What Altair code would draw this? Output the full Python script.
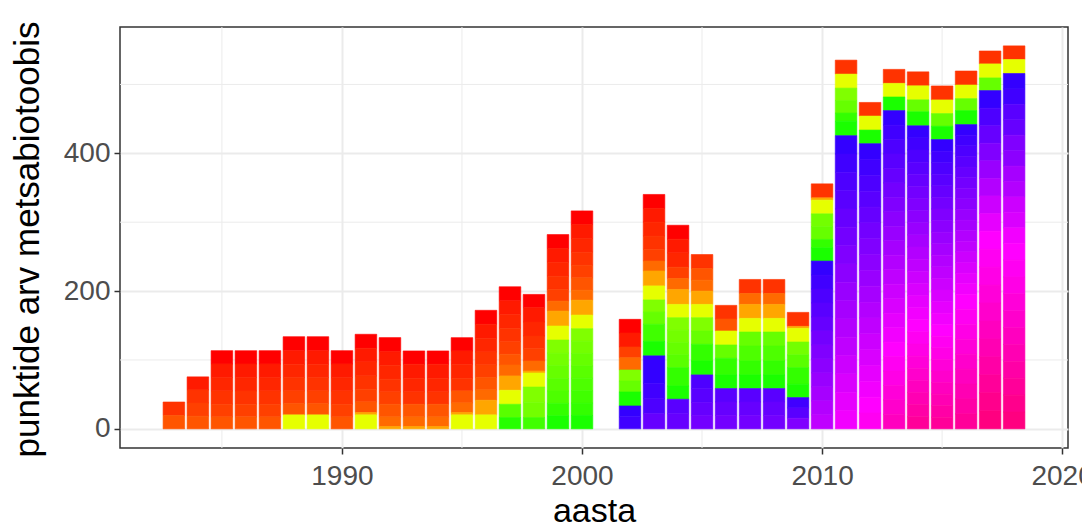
import altair as alt
import pandas as pd

# ---------------- data ----------------
years = [1983, 1984, 1985, 1986, 1987, 1988, 1989, 1990, 1991, 1992, 1993, 1994,
         1995, 1996, 1997, 1998, 1999, 2000, 2002, 2003, 2004, 2005, 2006, 2007,
         2008, 2009, 2010, 2011, 2012, 2013, 2014, 2015, 2016, 2017, 2018]

# fill levels, in stacking order (first = top of a bar)
level_names = ["R0", "R1", "R2", "R3", "R4", "R5", "R6", "O", "Y",
               "G0", "G1", "G2", "G3", "G4", "G5", "G6", "G7", "G8",
               "B0", "B1", "B2", "B3", "B4", "B5", "B6", "B7", "B8", "B9",
               "B10", "B11", "B12", "B13", "B14", "B15", "B16", "B17", "B18",
               "B19", "B20", "B21", "B22", "B23", "B24", "B25", "B26"]
level_colours = ["#FF0000", "#FF1A00", "#FF2600", "#FF3300", "#FF4000", "#FF5500", "#FF6A00", "#FFA600", "#E6FF00",
                 "#80FF00", "#73FF00", "#66FF00", "#59FF00", "#4DFF00", "#40FF00", "#33FF00", "#26FF00", "#1AFF00",
                 "#3300FF", "#4000FF", "#4D00FF", "#5900FF", "#6600FF", "#7300FF", "#8000FF", "#8C00FF", "#9900FF", "#A600FF",
                 "#B300FF", "#BF00FF", "#CC00FF", "#D900FF", "#E600FF", "#F200FF", "#FF00FF", "#FF00F2", "#FF00E6",
                 "#FF00D9", "#FF00CC", "#FF00BF", "#FF00B3", "#FF00A6", "#FF0099", "#FF008C", "#FF0080"]

# segments of each bar, top to bottom
seg_levels = [
    "R3 R5",
    "R1 R3 R4 R5",
    "R0 R1 R2 R3 R4 R5",
    "R0 R1 R2 R3 R4 R5",
    "R0 R1 R2 R3 R4 R5",
    "R0 R1 R2 R3 R4 R5 Y",
    "R0 R1 R2 R3 R4 R5 Y",
    "R0 R1 R2 R3 R4 R5",
    "R0 R1 R2 R3 R4 R5 O Y",
    "R0 R1 R2 R3 R4 R5 R6 O",
    "R0 R1 R2 R3 R5 R6 O",
    "R0 R1 R2 R3 R5 R6 O",
    "R0 R1 R2 R3 R5 R6 O Y",
    "R0 R1 R2 R3 R4 R5 R6 O Y",
    "R0 R1 R2 R3 R4 R5 R6 O Y G3 G7",
    "R0 R1 R2 R3 R4 R6 O Y G0 G1 G5",
    "R0 R1 R2 R3 R4 R6 O Y G0 G1 G2 G3 G4 G6 G8",
    "R0 R1 R2 R3 R4 R5 R6 O Y G0 G1 G2 G3 G4 G5 G6 G8",
    "R0 R1 R4 R6 G0 G2 G8 B0 B1",
    "R0 R1 R2 R3 R4 R6 O Y G0 G2 G5 G8 B0 B1 B2 B4",
    "R0 R1 R2 R4 R6 O Y G0 G1 G2 G3 G6 G8 B3 B4",
    "R3 R5 R6 O Y G0 G2 G6 G8 B2 B3 B4 B5",
    "R3 R5 Y G2 G6 G8 B3 B4 B5",
    "R3 R6 O Y G2 G4 G6 G8 B3 B4 B5",
    "R3 R6 O Y G2 G4 G6 G8 B3 B4 B5",
    "R3 O Y G1 G3 G6 G8 B1 B3 B6",
    "R3 O Y G1 G2 G6 G8 B0 B1 B2 B3 B4 B5 B6 B7 B8 B9 B10 B11",
    "R3 Y G0 G2 G6 G8 B0 B1 B2 B3 B4 B5 B6 B7 B8 B9 B10 B11 B12 B13 B14 B15",
    "R3 Y G8 B0 B1 B2 B3 B4 B5 B6 B7 B8 B9 B10 B11 B12 B13 B14 B15 B16 B17",
    "R3 Y G8 B0 B1 B2 B3 B4 B5 B6 B7 B8 B9 B10 B11 B12 B13 B14 B15 B16 B17 B18 B19 B20 B21",
    "R3 Y G2 G8 B0 B1 B2 B3 B4 B5 B6 B7 B8 B9 B10 B11 B12 B13 B14 B15 B16 B17 B18 B19 B20 B21 B22 B23 B24",
    "R3 Y G2 G8 B0 B1 B2 B3 B4 B5 B6 B7 B8 B9 B10 B11 B12 B13 B14 B15 B16 B17 B18 B19 B20 B21 B22 B23 B24",
    "R3 Y G2 G8 B0 B1 B2 B3 B4 B5 B6 B7 B8 B9 B10 B11 B12 B13 B14 B15 B16 B17 B18 B19 B20 B21 B22 B23 B24",
    "R3 Y G2 B0 B2 B4 B6 B8 B10 B12 B14 B16 B17 B18 B19 B20 B21 B22 B23 B24 B25 B26",
    "R3 Y B0 B1 B3 B4 B6 B7 B9 B10 B12 B13 B15 B16 B17 B18 B19 B20 B21 B22 B23 B24 B25 B26",
]

seg_values = [
    [19.5, 19.5],
    [19.0, 19.0, 19.0, 18.5],
    [19.3, 19.8, 19.3, 19.3, 18.4, 17.4],
    [19.3, 19.8, 19.3, 19.3, 18.4, 17.4],
    [19.3, 19.8, 19.3, 19.3, 18.4, 17.4],
    [20.3, 19.8, 19.3, 19.3, 18.4, 16.4, 20.3],
    [20.3, 19.8, 19.3, 19.3, 18.4, 16.4, 20.3],
    [19.3, 19.8, 19.3, 19.3, 18.4, 17.4],
    [20.3, 19.8, 20.3, 19.3, 18.4, 15.5, 3.4, 20.3],
    [20.3, 19.8, 20.3, 18.4, 17.9, 18.4, 14.0, 3.4],
    [19.3, 20.3, 19.8, 17.9, 18.4, 14.0, 3.4],
    [19.3, 20.3, 19.8, 17.9, 18.4, 14.0, 3.4],
    [19.3, 19.3, 20.3, 18.4, 17.4, 14.0, 3.4, 20.3],
    [20.3, 20.3, 19.8, 18.8, 18.4, 17.9, 15.0, 21.3, 20.3],
    [20.3, 19.8, 20.3, 19.3, 18.4, 15.5, 15.9, 20.8, 20.3, 19.3, 16.4],
    [19.3, 20.8, 20.3, 18.4, 17.9, 14.5, 2.9, 20.3, 22.2, 22.2, 16.4],
    [20.3, 19.8, 20.3, 19.3, 16.9, 14.5, 21.7, 20.3, 19.0, 18.0, 19.0, 18.0, 18.0, 18.0, 19.0],
    [19.8, 20.3, 19.8, 18.8, 18.4, 17.9, 14.5, 21.7, 19.8, 18.0, 18.0, 18.0, 18.0, 18.0, 18.0, 18.0, 19.4],
    [19.8, 20.3, 15.5, 17.9, 16.0, 15.9, 20.3, 15.9, 17.4],
    [20.3, 19.8, 20.3, 19.3, 16.9, 14.5, 21.7, 20.3, 17.6, 17.7, 25.1, 20.8, 40.0, 22.0, 22.0, 22.0],
    [20.3, 19.8, 20.8, 16.4, 15.9, 21.7, 19.3, 18.0, 18.0, 18.0, 18.5, 26.6, 19.3, 21.0, 22.0],
    [20.3, 16.9, 15.9, 19.3, 19.3, 19.3, 19.3, 24.2, 20.3, 20.0, 20.0, 19.0, 19.3],
    [19.8, 17.4, 20.3, 19.3, 24.2, 19.8, 19.5, 19.5, 19.5],
    [20.3, 15.9, 20.3, 19.8, 20.3, 21.7, 20.3, 19.8, 19.5, 19.5, 19.5],
    [20.3, 15.9, 20.3, 19.8, 20.3, 21.7, 20.3, 19.8, 19.5, 19.5, 19.5],
    [20.3, 2.9, 19.8, 18.6, 18.6, 24.2, 19.3, 15.0, 15.0, 15.4],
    [20.3, 3.4, 19.8, 18.6, 18.6, 12.1, 19.3,
     20.3, 20.3, 20.3, 20.3, 20.3, 20.3, 20.3, 20.3, 20.3, 20.3, 20.3, 20.3],
    [20.3, 20.3, 18.0, 18.2, 12.1, 20.8,
     26.6, 26.6, 26.6, 26.6, 26.6, 26.6, 26.6, 26.6, 26.6, 26.6, 26.6, 26.6, 26.6, 26.6, 26.6, 26.6],
    [19.8, 20.3, 19.8,
     23.0, 23.0, 23.0, 23.0, 23.0, 23.0, 23.0, 23.0, 23.0, 23.0, 23.0, 23.0, 23.0, 23.0, 23.0, 23.0, 23.0, 23.0],
    [20.3, 19.8, 19.8,
     21.0, 21.0, 21.0, 21.0, 21.0, 21.0, 21.0, 21.0, 21.0, 21.0, 21.0, 21.0, 21.0, 21.0, 21.0, 21.0, 21.0, 21.0,
     21.0, 21.0, 21.0, 21.0],
    [20.3, 20.3, 17.4, 20.3,
     17.6, 17.6, 17.6, 17.6, 17.6, 17.6, 17.6, 17.6, 17.6, 17.6, 17.6, 17.6, 17.6, 17.6, 17.6, 17.6, 17.6, 17.6,
     17.6, 17.6, 17.6, 17.6, 17.6, 17.6, 17.6],
    [20.3, 19.8, 18.4, 19.3,
     16.8, 16.8, 16.8, 16.8, 16.8, 16.8, 16.8, 16.8, 16.8, 16.8, 16.8, 16.8, 16.8, 16.8, 16.8, 16.8, 16.8, 16.8,
     16.8, 16.8, 16.8, 16.8, 16.8, 16.8, 16.8],
    [20.3, 19.8, 17.4, 20.3,
     15.4, 15.4, 15.4, 15.4, 15.4, 15.4, 15.4, 15.4, 15.4, 15.4, 15.4, 15.4, 15.4, 15.4, 15.4, 15.4,
     21.7, 21.7, 21.7, 21.7, 21.7, 21.7, 21.7, 21.7, 21.7],
    [18.8, 20.3, 18.4,
     25.5, 25.5, 25.5, 25.5, 25.5, 25.5, 25.5, 25.5,
     26.1, 26.1, 26.1, 26.1, 26.1, 26.1, 26.1, 26.1, 26.1, 26.1, 26.1],
    [19.8, 20.3,
     22.4, 22.4, 22.4, 22.4, 22.4, 22.4, 22.4, 22.4, 22.4, 22.4, 22.4,
     24.5, 24.5, 24.5, 24.5, 24.5, 24.5, 24.5, 24.5, 24.5, 24.5, 24.5],
]

x_major = [1990, 2000, 2010, 2020]
x_minor = [1985, 1995, 2005, 2015]
y_major = [0, 200, 400]
y_minor = [100, 300, 500]

# ---------------- table ----------------
rows = []
for yr, lv, vals in zip(years, seg_levels, seg_values):
    names = lv.split()
    assert len(names) == len(vals), yr
    for nm, v in zip(names, vals):
        k = level_names.index(nm)
        rows.append({"aasta": yr, "level": nm, "rank": k,
                     "colour": level_colours[k], "n": v})
df = pd.DataFrame(rows)

FONT = "Liberation Sans"
X_TITLE = "aasta"
Y_TITLE = "punktide arv metsabiotoobis"

xscale = alt.Scale(domain=[1980.755, 2020.245], nice=False, zero=False)
yscale = alt.Scale(domain=[-27.8, 583.4], nice=False, zero=False)

x_axis = alt.Axis(values=x_major, format="d", grid=True, gridColor="#EBEBEB", gridWidth=2,
                  domain=False, ticks=True, tickColor="#333333", tickWidth=1.5, tickSize=6,
                  labelFont=FONT, labelFontSize=28, labelColor="#4D4D4D", labelPadding=8,
                  labelFlush=False, labelOverlap=False,
                  titleFont=FONT, titleFontSize=34, titleFontWeight="normal", titleColor="#000000",
                  titleBaseline="alphabetic", titleY=73)
y_axis = alt.Axis(values=y_major, grid=True, gridColor="#EBEBEB", gridWidth=2,
                  domain=False, ticks=True, tickColor="#333333", tickWidth=1.5, tickSize=6,
                  labelFont=FONT, labelFontSize=28, labelColor="#4D4D4D", labelPadding=4,
                  labelFlush=False, labelOverlap=False,
                  titleFont=FONT, titleFontSize=35, titleFontWeight="normal", titleColor="#000000",
                  titleAngle=270, titleBaseline="alphabetic", titleAlign="center",
                  titleX=-82, titleY=212)

minor_x = alt.Chart(pd.DataFrame({"v": x_minor})).mark_rule(color="#EBEBEB", strokeWidth=1).encode(
    x=alt.X("v:Q", scale=xscale, axis=x_axis, title=X_TITLE))
minor_y = alt.Chart(pd.DataFrame({"v": y_minor})).mark_rule(color="#EBEBEB", strokeWidth=1).encode(
    y=alt.Y("v:Q", scale=yscale, axis=y_axis, title=Y_TITLE))

bars = alt.Chart(df).transform_stack(
    stack="n", groupby=["aasta"], as_=["y0", "y1"],
    sort=[alt.SortField("rank", order="descending")]
).transform_calculate(
    x0="datum.aasta - 0.45", x1="datum.aasta + 0.45"
).mark_bar(strokeWidth=0.6).encode(
    x=alt.X("x0:Q", scale=xscale, axis=x_axis, title=X_TITLE),
    x2="x1:Q",
    y=alt.Y("y0:Q", scale=yscale, axis=y_axis, title=Y_TITLE),
    y2="y1:Q",
    color=alt.Color("colour:N", scale=None, legend=None),
    stroke=alt.Stroke("colour:N", scale=None, legend=None),
)

chart = alt.layer(minor_x, minor_y, bars).properties(
    width=948, height=421,
    autosize=alt.AutoSizeParams(type="none"),
    padding={"left": 112, "top": 19, "right": 14, "bottom": 74},
    background="#FFFFFF",
).configure_view(stroke="#333333", strokeWidth=1.5, fill="#FFFFFF")

chart.save("out.html", embed_options={"renderer": "svg", "actions": False})
